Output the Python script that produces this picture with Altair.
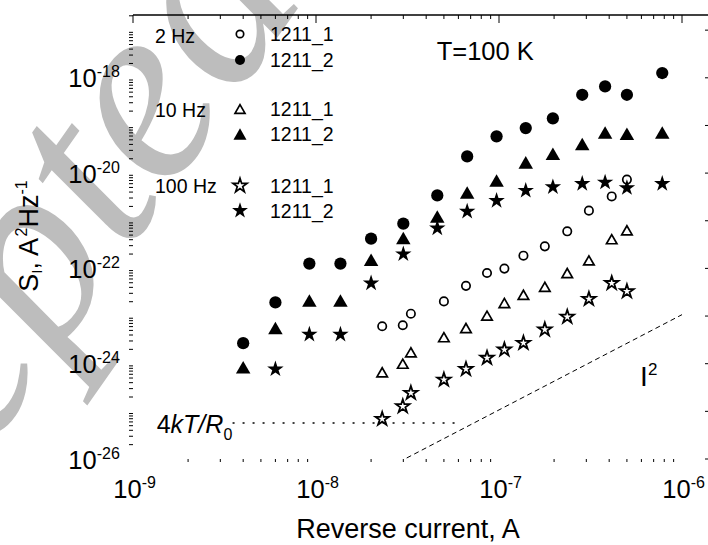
import altair as alt
import pandas as pd

# ---------------- layout ----------------
W, H = 575, 444
PAD = {"left": 133, "top": 15, "right": 0, "bottom": 86}
FONT = "Liberation Sans"

X_DOMAIN = [1e-9, 1.387e-6]
Y_DOMAIN = [1e-26, 2.08e-17]

# ---------------- data ----------------
# device 1211_2 (filled symbols)
x_1211_2 = [4.0e-9, 6.0e-9, 9.2e-9, 1.36e-8, 2.0e-8, 3.0e-8, 4.6e-8, 6.7e-8,
            9.7e-8, 1.40e-7, 1.97e-7, 2.85e-7, 3.8e-7, 5.0e-7, 7.8e-7]
s2hz_1211_2 = [2.7e-24, 1.93e-23, 1.26e-22, 1.26e-22, 4.2e-22, 8.7e-22, 3.4e-21,
               2.24e-20, 5.9e-20, 8.8e-20, 1.41e-19, 4.4e-19, 6.6e-19, 4.4e-19, 1.26e-18]
s10hz_1211_2 = [8.4e-25, 5.6e-24, 2.13e-23, 2.13e-23, 1.52e-22, 4.35e-22, 1.23e-21,
                3.9e-21, 7.0e-21, 1.68e-20, 2.55e-20, 4.1e-20, 7.1e-20, 6.7e-20, 7.1e-20]
x_1211_2_100 = [6.0e-9, 9.2e-9, 1.36e-8, 2.0e-8, 3.0e-8, 4.6e-8, 6.7e-8,
                9.7e-8, 1.40e-7, 1.97e-7, 2.85e-7, 3.8e-7, 5.0e-7, 7.8e-7]
s100hz_1211_2 = [7.7e-25, 4.1e-24, 4.1e-24, 4.9e-23, 2.0e-22, 7.0e-22, 1.57e-21,
                 2.64e-21, 4.3e-21, 5.1e-21, 6.0e-21, 6.4e-21, 4.9e-21, 6.0e-21]

# device 1211_1 (open symbols)
x_1211_1 = [2.3e-8, 2.98e-8, 3.3e-8, 5.0e-8, 6.6e-8, 8.6e-8, 1.07e-7, 1.36e-7,
            1.78e-7, 2.36e-7, 3.1e-7, 4.13e-7, 5.0e-7]
s2hz_1211_1 = [6.1e-24, 6.4e-24, 1.12e-23, 2.03e-23, 4.3e-23, 8.0e-23, 9.9e-23,
               1.85e-22, 2.9e-22, 6.0e-22, 1.63e-21, 3.24e-21, 7.3e-21]
s10hz_1211_1 = [6.6e-25, 1.0e-24, 1.73e-24, 3.6e-24, 5.6e-24, 1.02e-23, 1.88e-23,
                2.8e-23, 4.1e-23, 8.0e-23, 1.47e-22, 4.1e-22, 6.3e-22]
s100hz_1211_1 = [6.9e-26, 1.27e-25, 2.43e-25, 4.6e-25, 7.7e-25, 1.32e-24, 1.97e-24,
                 2.72e-24, 5.2e-24, 9.6e-24, 2.28e-23, 4.9e-23, 3.3e-23]

# reference lines
kt_x = [3.5e-9, 6.1e-8]
kt_y = [5.7e-26, 5.7e-26]
i2_x = [3.13e-8, 1.0e-6]
i2_y = [1.05e-26, 1.07e-23]

# axis ticks / labels
x_major = [1e-9, 1e-8, 1e-7, 1e-6]
x_exp = ["-9", "-8", "-7", "-6"]
x_minor = [k * 10.0 ** d for d in (-9, -8, -7) for k in range(2, 10)]
y_major = [10.0 ** d for d in range(-26, -16)]
y_label_vals = [1e-26, 1e-24, 1e-22, 1e-20, 1e-18]
y_exp = ["-26", "-24", "-22", "-20", "-18"]
y_minor = [k * 10.0 ** d for d in range(-26, -17) for k in range(2, 10)] + [2e-17]

STAR = ("M0,-1L0.2245,-0.309L0.9511,-0.309L0.3633,0.118L0.5878,0.809L0,0.382"
        "L-0.5878,0.809L-0.3633,0.118L-0.9511,-0.309L-0.2245,-0.309Z")

xs = alt.Scale(type="log", domain=X_DOMAIN, nice=False)
ys = alt.Scale(type="log", domain=Y_DOMAIN, nice=False)
ONE = pd.DataFrame({"a": [0]})


def X(field="x", axis=None):
    return alt.X(f"{field}:Q", scale=xs, axis=axis)


def Y(field="y", axis=None):
    return alt.Y(f"{field}:Q", scale=ys, axis=axis)


def pts(xv, yv, shape, filled, size, sw=1.7, xaxis=None, yaxis=None):
    df = pd.DataFrame({"x": xv, "y": yv})
    if filled:
        m = alt.Chart(df).mark_point(shape=shape, filled=True, color="black",
                                     size=size, opacity=1)
    else:
        m = alt.Chart(df).mark_point(shape=shape, filled=False, color="black",
                                     strokeWidth=sw, size=size, opacity=1)
    return m.encode(x=X(axis=xaxis), y=Y(axis=yaxis))


def text(t, x, y, size, align="left", italic=False, font=FONT, angle=0,
         color="black", baseline="alphabetic"):
    kw = dict(text=t, align=align, baseline=baseline, fontSize=size, font=font,
              fontStyle="italic" if italic else "normal", color=color)
    if angle:
        kw["angle"] = angle
    return alt.Chart(ONE).mark_text(**kw).encode(x=alt.value(x), y=alt.value(y))


def legsym(shape, filled, size, x, y, sw=1.7):
    if filled:
        m = alt.Chart(ONE).mark_point(shape=shape, filled=True, color="black",
                                      size=size, opacity=1)
    else:
        m = alt.Chart(ONE).mark_point(shape=shape, filled=False, color="black",
                                      strokeWidth=sw, size=size, opacity=1)
    return m.encode(x=alt.value(x), y=alt.value(y))


def xtick_rules(vals, y0, y1):
    return alt.Chart(pd.DataFrame({"v": vals})).mark_rule(color="black", strokeWidth=1).encode(
        x=X("v"), y=alt.value(y0), y2=alt.value(y1))


def ytick_rules(vals, x0, x1):
    return alt.Chart(pd.DataFrame({"v": vals})).mark_rule(color="black", strokeWidth=1).encode(
        y=Y("v"), x=alt.value(x0), x2=alt.value(x1))


layers = []

# watermark (behind everything)
layers.append(text("Accepted", -372, 760, 260, italic=True, font="Liberation Serif",
                   angle=305, color="#bdbdbd"))

# main axes (domain + major ticks), bottom and left
x_axis = alt.Axis(values=x_major, tickSize=6, tickColor="black", tickWidth=1,
                  domainColor="black", domainWidth=1.3, labels=False, grid=False, title=None)
y_axis = alt.Axis(values=y_major, tickSize=6.5, tickColor="black", tickWidth=1,
                  domainColor="black", domainWidth=1.3, labels=False, grid=False, title=None)

# minor ticks bottom / left
layers.append(xtick_rules(x_minor, H, H + 3))
layers.append(ytick_rules(y_minor, 0, -4))
# top frame with inward ticks
layers.append(alt.Chart(ONE).mark_rule(color="black", strokeWidth=1.3).encode(
    x=alt.value(0), x2=alt.value(W), y=alt.value(0)))
layers.append(xtick_rules(x_major, 0, 8))
layers.append(xtick_rules(x_minor, 0, 4))
# right side inward ticks
layers.append(ytick_rules(y_major, W, W - 3))

# reference lines
layers.append(alt.Chart(pd.DataFrame({"x": kt_x, "y": kt_y})).mark_line(
    color="black", strokeWidth=1.6, strokeDash=[2, 8]).encode(x=X(), y=Y()))
layers.append(alt.Chart(pd.DataFrame({"x": i2_x, "y": i2_y})).mark_line(
    color="black", strokeWidth=1, strokeDash=[5, 3.5]).encode(x=X(), y=Y()))

# data points
layers.append(pts(x_1211_2, s2hz_1211_2, "circle", True, 150, xaxis=x_axis, yaxis=y_axis))
layers.append(pts(x_1211_2, s10hz_1211_2, "triangle-up", True, 210))
layers.append(pts(x_1211_2_100, s100hz_1211_2, STAR, True, 300))
layers.append(pts(x_1211_1, s2hz_1211_1, "circle", False, 70))
layers.append(pts(x_1211_1, s10hz_1211_1, "triangle-up", False, 110))
layers.append(pts(x_1211_1, s100hz_1211_1, STAR, False, 200, sw=1.8))

# tick labels x
xl = pd.DataFrame({"v": x_major, "e": x_exp})
layers.append(alt.Chart(xl).mark_text(text="10", align="right", baseline="alphabetic",
                                      fontSize=25.5, font=FONT, dx=8.7, color="black").encode(
    x=X("v"), y=alt.value(H + 38.5)))
layers.append(alt.Chart(xl).mark_text(align="left", baseline="alphabetic", fontSize=16,
                                      font=FONT, dx=8.7, color="black").encode(
    x=X("v"), y=alt.value(H + 28.5), text="e:N"))
# tick labels y
yl = pd.DataFrame({"v": y_label_vals, "e": y_exp})
layers.append(alt.Chart(yl).mark_text(text="10", align="right", baseline="alphabetic",
                                      fontSize=25.5, font=FONT, dy=9.6, color="black").encode(
    y=Y("v"), x=alt.value(-36.3)))
layers.append(alt.Chart(yl).mark_text(align="left", baseline="alphabetic", fontSize=16,
                                      font=FONT, dy=-0.4, color="black").encode(
    y=Y("v"), x=alt.value(-36.3), text="e:N"))

# axis titles
layers.append(text("Reverse current, A", 275, 523, 27, align="center"))
layers.append(text("S", -95, 276.7, 27, angle=270))
layers.append(text("I", -91, 258.7, 15, angle=270))
layers.append(text(", A", -95, 254.5, 27, angle=270))
layers.append(text("2", -106, 221.5, 16, angle=270))
layers.append(text("Hz", -95, 212.5, 27, angle=270))
layers.append(text("-1", -106, 179.5, 16, angle=270))

# annotations
layers.append(text("T=100 K", 303.7, 45, 25.5))
layers.append(text("4", 23.7, 418.3, 25))
layers.append(text("kT/R", 37.6, 418.3, 25, italic=True))
layers.append(text("0", 90.4, 425, 16))
layers.append(text("I", 507, 371, 28))
layers.append(text("2", 515, 360, 17))

# legend
for lbl, yb in (("2 Hz", 27.7), ("10 Hz", 102), ("100 Hz", 177.7)):
    layers.append(text(lbl, 22, yb, 19.5))
leg = [("circle", False, 55, 19), ("circle", True, 100, 45),
       ("triangle-up", False, 100, 94), ("triangle-up", True, 170, 119),
       (STAR, False, 220, 170.7), (STAR, True, 280, 195.7)]
for i, (shp, fil, sz, yy) in enumerate(leg):
    layers.append(legsym(shp, fil, sz, 107, yy))
    layers.append(text("1211_1" if i % 2 == 0 else "1211_2", 137, yy + 7, 19.5))

chart = alt.layer(*layers).properties(
    width=W, height=H, padding=PAD,
    autosize=alt.AutoSizeParams(type="none"), background="white",
).configure_view(stroke=None)

chart.save("out.html", embed_options={"renderer": "svg", "actions": False})
